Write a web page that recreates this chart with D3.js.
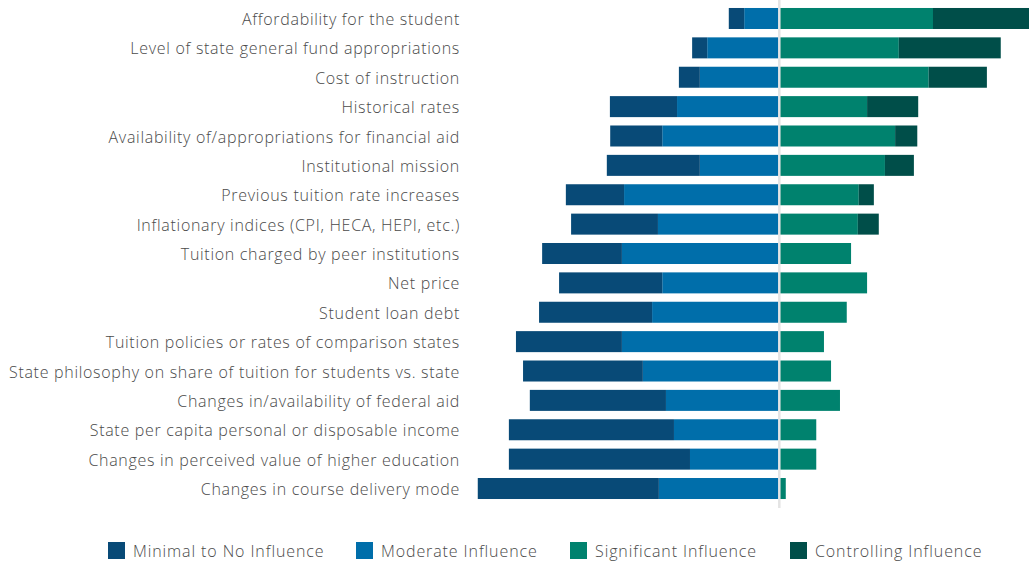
<!DOCTYPE html>
<head>
<meta charset="utf-8">
<style>
  body { margin: 0; background: #fff; }
  text { font-family: "Open Sans", sans-serif; fill: #4a4a4a; font-weight: 300; }
  .label { letter-spacing: 0.7px; }
  .legend text { letter-spacing: 0.9px; }
</style>
<script src="https://d3js.org/d3.v7.min.js"></script>
</head>
<body>
<div id="chart"></div>
<script>
const factors = [
  "Affordability for the student",
  "Level of state general fund appropriations",
  "Cost of instruction",
  "Historical rates",
  "Availability of/appropriations for financial aid",
  "Institutional mission",
  "Previous tuition rate increases",
  "Inflationary indices (CPI, HECA, HEPI, etc.)",
  "Tuition charged by peer institutions",
  "Net price",
  "Student loan debt",
  "Tuition policies or rates of comparison states",
  "State philosophy on share of tuition for students vs. state",
  "Changes in/availability of federal aid",
  "State per capita personal or disposable income",
  "Changes in perceived value of higher education",
  "Changes in course delivery mode"
];
const categories = ["Minimal to No Influence", "Moderate Influence", "Significant Influence", "Controlling Influence"];
const minimal     = [5.0, 4.9, 6.8, 21.8, 16.9, 30.2, 18.9, 28.2, 25.9, 33.5, 36.7, 34.4, 38.9, 44.2, 53.6, 58.8, 58.8];
const moderate    = [11.4, 23.4, 25.8, 33.2, 38.0, 25.8, 50.4, 39.4, 51.1, 38.0, 41.3, 51.1, 44.3, 36.8, 34.2, 29.0, 39.1];
const significant = [49.9, 38.8, 48.5, 28.5, 37.6, 34.3, 25.8, 25.5, 23.3, 28.5, 21.9, 14.5, 16.8, 19.7, 12.0, 12.0, 2.1];
const controlling = [33.7, 33.1, 18.9, 16.6, 7.2, 9.4, 4.9, 6.8, 0, 0, 0, 0, 0, 0, 0, 0, 0];
const colors = ["#084a77", "#006eaa", "#00826e", "#004e49"];

const width = 1029, height = 563;
const svg = d3.select("#chart").append("svg")
  .attr("width", width).attr("height", height);

const x = d3.scaleLinear().domain([-100, 100]).range([779.3 - 308, 779.3 + 308]);
const y = d3.scaleBand().domain(factors).range([3.8, 503.2])
  .paddingInner(0.285).paddingOuter(0.1425);

const rows = factors.map((f, i) => {
  const segs = [];
  // left side: moderate next to center, minimal further out
  segs.push({ f, c: 1, x0: -moderate[i], x1: 0 });
  segs.push({ f, c: 0, x0: -moderate[i] - minimal[i], x1: -moderate[i] });
  segs.push({ f, c: 2, x0: 0, x1: significant[i] });
  segs.push({ f, c: 3, x0: significant[i], x1: significant[i] + controlling[i] });
  return segs;
}).flat();

svg.append("g").selectAll("rect")
  .data(rows.filter(d => d.x1 > d.x0))
  .join("rect")
  .attr("x", d => x(d.x0))
  .attr("width", d => x(d.x1) - x(d.x0))
  .attr("y", d => y(d.f))
  .attr("height", y.bandwidth())
  .attr("fill", d => colors[d.c]);

// center line
svg.append("line")
  .attr("x1", x(0)).attr("x2", x(0))
  .attr("y1", 0).attr("y2", 508)
  .attr("stroke", "#e4e4e4").attr("stroke-width", 2.5);

// labels
svg.append("g").selectAll("text")
  .data(factors)
  .join("text")
  .attr("class", "label")
  .attr("x", 460)
  .attr("y", d => y(d) + y.bandwidth() / 2 + 1)
  .attr("dy", "0.35em")
  .attr("text-anchor", "end")
  .style("font-size", "16px")
  .text(d => d);

// legend
const legendX = [108, 356, 570, 790];
const lg = svg.append("g").attr("class", "legend").selectAll("g")
  .data(categories)
  .join("g")
  .attr("transform", (d, i) => `translate(${legendX[i]},542)`);
lg.append("rect").attr("width", 17).attr("height", 17).attr("fill", (d, i) => colors[i]);
lg.append("text").attr("x", 25).attr("y", 9).attr("dy", "0.35em")
  .style("font-size", "16px").text(d => d);
</script>
</body>
